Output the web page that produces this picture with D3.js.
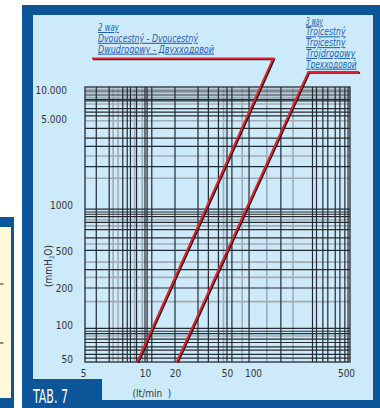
<!DOCTYPE html>
<html><head><meta charset="utf-8">
<script src="https://cdn.jsdelivr.net/npm/d3@7"></script>
<style>
html,body{margin:0;padding:0;background:#fff;}
svg{display:block;}
text{font-family:"Liberation Sans Narrow","DejaVu Sans Condensed",sans-serif;}
</style></head><body>
<svg id="chart" width="380" height="408"></svg>
<script>
// flow axis (lt/min)
const flowTicks = [5, 10, 20, 50, 100, 500];
const flowTickLabels = ["5", "10", "20", "50", "100", "500"];
// pressure drop axis (mmH2O)
const dropTicks = [50, 100, 200, 500, 1000, 5000, 10000];
const dropTickLabels = ["50", "100", "200", "500", "1000", "5.000", "10.000"];

// grid rulings of the nomogram
const flowGridDark = [5.8, 6.7, 7.8, 8.2, 8.5, 9.1, 10, 10.5, 11.7, 20, 30, 36, 43, 50, 57, 90, 162, 280, 300, 335, 365, 415, 450, 490, 518];
const flowGridLight = [7.0, 7.4, 8.9, 9.7, 47, 75, 127, 200];
const dropGridDark = [9760, 8870, 8000, 7700, 6400, 5900, 5400, 4200, 3500, 3000, 2050, 940, 900, 870, 840, 770, 690, 610, 505, 316, 200, 93.5, 88, 84, 75, 70, 64, 60, 55, 51];
const dropGridLight = [10170, 9380, 8400, 7150, 4840, 2500, 1650, 800, 730, 556, 380, 260, 155, 80];

// valve curves: flow at 50 and at 10000 mmH2O
const twoWay = [{q: 9.3, dp: 50}, {q: 111, dp: 10000}];
const threeWay = [{q: 21.1, dp: 50}, {q: 226, dp: 10000}];
const twoWayLabel = ["2 way", "Dvoucestný - Dvoucestný", "Dwudrogowy - Двухходовой"];
const threeWayLabel = ["3 way", "Trojcestný", "Trojcestný", "Trójdrogowy", "Трехходовой"];

const navy = "#0b5598", panel = "#cdeafb", inkBlue = "#1f62ad", red = "#e3202b";
const plot = {left: 85, right: 350, top: 87, bottom: 362};

const svg = d3.select("#chart");

// side card (partly visible)
svg.append("rect").attr("x", 0).attr("y", 217).attr("width", 14).attr("height", 191).attr("fill", navy);
svg.append("rect").attr("x", 0).attr("y", 227).attr("width", 11).attr("height", 171).attr("fill", "#fdf8dc");
[284, 343].forEach(yy => svg.append("line").attr("x1", 0).attr("x2", 3.5).attr("y1", yy).attr("y2", yy)
  .attr("stroke", "#222").attr("stroke-width", 1));

// frame and panel
svg.append("rect").attr("x", 22).attr("y", 5).attr("width", 358).attr("height", 403).attr("fill", navy);
svg.append("rect").attr("x", 33).attr("y", 15).attr("width", 340).attr("height", 385).attr("fill", panel);

// piecewise log scales following the printed scale marks
const x = d3.scaleLog().domain(flowTicks).range([83, 145, 175, 227, 253, 346]);
const y = d3.scaleLog().domain(dropTicks).range([359, 325, 288, 251, 205, 119, 90]);

const grid = svg.append("g");
function vlines(vals, color, w) {
  grid.selectAll(null).data(vals).enter().append("line")
    .attr("x1", d => x(d)).attr("x2", d => x(d)).attr("y1", plot.top).attr("y2", plot.bottom)
    .attr("stroke", color).attr("stroke-width", w);
}
function hlines(vals, color, w) {
  grid.selectAll(null).data(vals).enter().append("line")
    .attr("y1", d => y(d)).attr("y2", d => y(d)).attr("x1", plot.left).attr("x2", plot.right)
    .attr("stroke", color).attr("stroke-width", w);
}
vlines(flowGridLight, "#a2abb3", 1.6);
hlines(dropGridLight, "#a2abb3", 1.6);
vlines(flowGridDark, "#262a2e", 1.2);
hlines(dropGridDark, "#262a2e", 1.2);
grid.append("rect").attr("x", plot.left).attr("y", plot.top)
  .attr("width", plot.right - plot.left).attr("height", plot.bottom - plot.top)
  .attr("fill", "none").attr("stroke", "#262a2e").attr("stroke-width", 1.3);

// axes (labels only)
const yAxis = svg.append("g").attr("transform", "translate(73,0)")
  .call(d3.axisLeft(y).tickValues(dropTicks).tickFormat((d, i) => dropTickLabels[i]).tickSize(0).tickPadding(0));
yAxis.select(".domain").remove();
yAxis.selectAll("text").attr("font-size", 10).attr("fill", "#333")
  .attr("font-family", "Liberation Sans Narrow, DejaVu Sans Condensed, sans-serif")
  .attr("dx", d => d >= 5000 ? -6 : 0);

const xAxis = svg.append("g").attr("transform", "translate(0,370)")
  .call(d3.axisBottom(x).tickValues(flowTicks).tickFormat((d, i) => flowTickLabels[i]).tickSize(0).tickPadding(0));
xAxis.select(".domain").remove();
xAxis.selectAll("text").attr("font-size", 10).attr("fill", "#333")
  .attr("font-family", "Liberation Sans Narrow, DejaVu Sans Condensed, sans-serif");

// axis titles
const yt = svg.append("text").attr("transform", "translate(52,266) rotate(-90)")
  .attr("text-anchor", "middle").attr("font-size", 10).attr("fill", "#333");
yt.append("tspan").text("(mmH");
yt.append("tspan").text("2").attr("font-size", 6).attr("dy", 2);
yt.append("tspan").text("O)").attr("dy", -2);
svg.append("text").attr("x", 152).attr("y", 397).attr("text-anchor", "middle")
  .attr("font-size", 10).attr("fill", "#333").attr("xml:space", "preserve").text("(lt/min  )");

// table tag
svg.append("rect").attr("x", 22).attr("y", 379).attr("width", 80).attr("height", 29).attr("fill", navy);
svg.append("text").attr("x", 33).attr("y", 403).attr("font-size", 20).attr("fill", "#fff")
  .attr("textLength", 35).attr("lengthAdjust", "spacingAndGlyphs").text("TAB. 7");

// curve with its leader up to the caption
function curve(pts, leaderY, leaderEnd) {
  const p0 = [x(pts[0].q), y(pts[0].dp)], p1 = [x(pts[1].q), y(pts[1].dp)];
  const xAt = yy => p0[0] + (yy - p0[1]) * (p1[0] - p0[0]) / (p1[1] - p0[1]);
  const path = [[xAt(plot.bottom), plot.bottom], [xAt(leaderY), leaderY], [leaderEnd, leaderY]];
  const line = d3.line();
  svg.append("path").attr("d", line(path.map(p => [p[0] + 1.1, p[1] + 0.9])))
    .attr("fill", "none").attr("stroke", "#1a1a1a").attr("stroke-width", 1.8);
  svg.append("path").attr("d", line(path)).attr("fill", "none")
    .attr("stroke", red).attr("stroke-width", 1.9);
}
curve(twoWay, 58.5, 92);
curve(threeWay, 72, 359);

// captions
function caption(lines, x0, y0, step, widths) {
  lines.forEach((t, i) => {
    svg.append("text").attr("x", x0).attr("y", y0 + i * step)
      .attr("font-size", 10.5).attr("font-style", "italic").attr("fill", inkBlue)
      .style("text-decoration", "underline")
      .attr("textLength", widths[i]).attr("lengthAdjust", "spacingAndGlyphs").text(t);
  });
}
caption(twoWayLabel, 98, 31, 10.8, [21, 100, 116]);
caption(threeWayLabel, 306, 24.5, 10.8, [17, 39.5, 39.5, 49.5, 50.5]);
</script>
</body></html>
